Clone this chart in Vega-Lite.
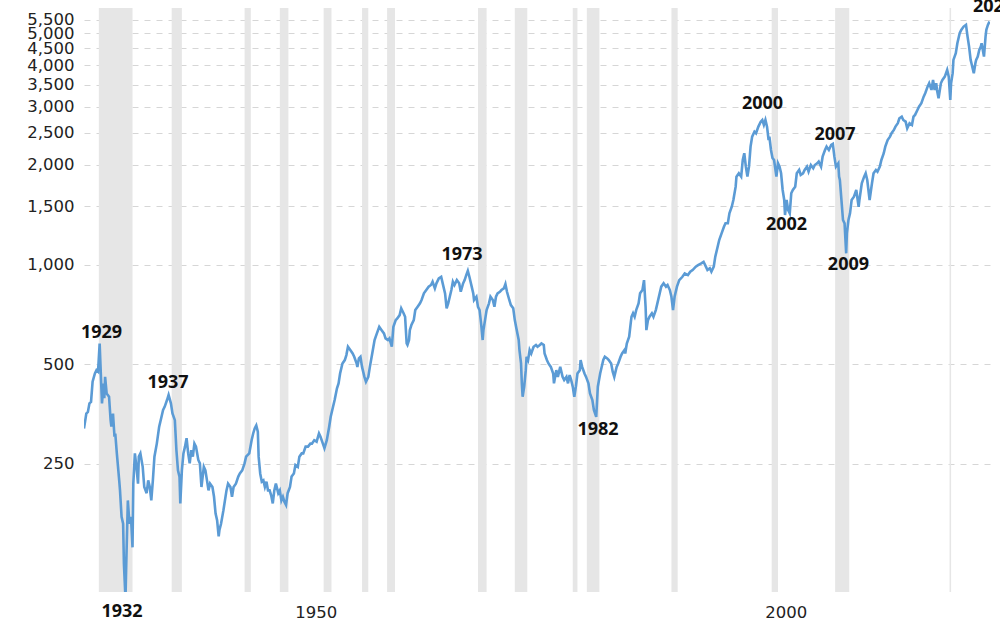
{
  "$schema": "https://vega.github.io/schema/vega-lite/v6.json",
  "autosize": {"type": "none"},
  "padding": {"left": 84, "top": 8, "right": 10, "bottom": 41},
  "width": 906,
  "height": 584,
  "background": "white",
  "config": {"view": {"stroke": null}},
  "datasets": {
    "recessions": [
      {"start": "1929-08-01", "end": "1933-03-01"},
      {"start": "1937-05-01", "end": "1938-06-01"},
      {"start": "1945-02-01", "end": "1945-10-01"},
      {"start": "1948-11-01", "end": "1949-10-01"},
      {"start": "1953-07-01", "end": "1954-05-01"},
      {"start": "1957-08-01", "end": "1958-04-01"},
      {"start": "1960-04-01", "end": "1961-02-01"},
      {"start": "1969-12-01", "end": "1970-11-01"},
      {"start": "1973-11-01", "end": "1975-03-01"},
      {"start": "1980-01-01", "end": "1980-07-01"},
      {"start": "1981-07-01", "end": "1982-11-01"},
      {"start": "1990-07-01", "end": "1991-03-01"},
      {"start": "2001-03-01", "end": "2001-11-01"},
      {"start": "2007-12-01", "end": "2009-06-01"},
      {"start": "2020-02-01", "end": "2020-04-01"}
    ],
    "labels": [
      {"date": "1929-11-13", "value": 620, "label": "1929"},
      {"date": "1932-01-18", "value": 89.2, "label": "1932"},
      {"date": "1936-12-10", "value": 439, "label": "1937"},
      {"date": "1968-03-20", "value": 1069, "label": "1973"},
      {"date": "1982-09-08", "value": 316, "label": "1982"},
      {"date": "2000-03-10", "value": 3058, "label": "2000"},
      {"date": "2002-09-26", "value": 1322, "label": "2002"},
      {"date": "2007-11-25", "value": 2465, "label": "2007"},
      {"date": "2009-04-30", "value": 997, "label": "2009"},
      {"date": "2024-10-08", "value": 5986, "label": "2024"}
    ],
    "sp500": [
      {"date": "1928-01-01", "value": 320}, {"date": "1928-04-01", "value": 355}, {"date": "1928-06-01", "value": 359}, {"date": "1928-08-01", "value": 381}, {"date": "1928-10-01", "value": 385}, {"date": "1928-12-01", "value": 443},
      {"date": "1929-03-01", "value": 469}, {"date": "1929-05-01", "value": 480}, {"date": "1929-07-01", "value": 475}, {"date": "1929-09-01", "value": 578}, {"date": "1929-10-01", "value": 503}, {"date": "1929-12-01", "value": 381},
      {"date": "1930-02-01", "value": 437}, {"date": "1930-03-01", "value": 395}, {"date": "1930-04-01", "value": 458}, {"date": "1930-06-01", "value": 408}, {"date": "1930-09-01", "value": 399}, {"date": "1930-11-01", "value": 339}, {"date": "1930-12-01", "value": 324},
      {"date": "1931-02-01", "value": 355}, {"date": "1931-04-01", "value": 302}, {"date": "1931-05-01", "value": 309}, {"date": "1931-07-01", "value": 269}, {"date": "1931-10-01", "value": 223}, {"date": "1931-11-01", "value": 208},
      {"date": "1932-01-01", "value": 173}, {"date": "1932-03-01", "value": 165}, {"date": "1932-04-01", "value": 125}, {"date": "1932-06-01", "value": 98}, {"date": "1932-07-01", "value": 125}, {"date": "1932-09-01", "value": 194}, {"date": "1932-11-01", "value": 165},
      {"date": "1933-01-01", "value": 173}, {"date": "1933-03-01", "value": 140}, {"date": "1933-04-01", "value": 218}, {"date": "1933-06-01", "value": 269}, {"date": "1933-08-01", "value": 245}, {"date": "1933-10-01", "value": 218}, {"date": "1933-11-01", "value": 263},
      {"date": "1934-01-01", "value": 269}, {"date": "1934-04-01", "value": 245}, {"date": "1934-06-01", "value": 213}, {"date": "1934-09-01", "value": 204}, {"date": "1934-11-01", "value": 223},
      {"date": "1935-01-01", "value": 213}, {"date": "1935-03-01", "value": 194}, {"date": "1935-05-01", "value": 223}, {"date": "1935-07-01", "value": 263}, {"date": "1935-10-01", "value": 288},
      {"date": "1936-01-01", "value": 324}, {"date": "1936-04-01", "value": 347}, {"date": "1936-06-01", "value": 364}, {"date": "1936-08-01", "value": 372}, {"date": "1936-11-01", "value": 390},
      {"date": "1937-01-01", "value": 404}, {"date": "1937-04-01", "value": 381}, {"date": "1937-06-01", "value": 355}, {"date": "1937-09-01", "value": 339}, {"date": "1937-11-01", "value": 275},
      {"date": "1938-01-01", "value": 239}, {"date": "1938-03-01", "value": 229}, {"date": "1938-04-01", "value": 190}, {"date": "1938-06-01", "value": 239}, {"date": "1938-08-01", "value": 269}, {"date": "1938-10-01", "value": 282}, {"date": "1938-12-01", "value": 299},
      {"date": "1939-02-01", "value": 269}, {"date": "1939-04-01", "value": 251}, {"date": "1939-06-01", "value": 275}, {"date": "1939-08-01", "value": 263}, {"date": "1939-10-01", "value": 288}, {"date": "1939-12-01", "value": 282},
      {"date": "1940-03-01", "value": 257}, {"date": "1940-05-01", "value": 251}, {"date": "1940-07-01", "value": 213}, {"date": "1940-10-01", "value": 245}, {"date": "1940-12-01", "value": 239},
      {"date": "1941-02-01", "value": 223}, {"date": "1941-04-01", "value": 208}, {"date": "1941-06-01", "value": 218}, {"date": "1941-09-01", "value": 213}, {"date": "1941-11-01", "value": 199},
      {"date": "1942-01-01", "value": 177}, {"date": "1942-03-01", "value": 169}, {"date": "1942-05-01", "value": 151}, {"date": "1942-06-01", "value": 158}, {"date": "1942-08-01", "value": 165}, {"date": "1942-11-01", "value": 181},
      {"date": "1943-03-01", "value": 208}, {"date": "1943-05-01", "value": 218}, {"date": "1943-08-01", "value": 213}, {"date": "1943-10-01", "value": 199}, {"date": "1943-12-01", "value": 213},
      {"date": "1944-03-01", "value": 218}, {"date": "1944-06-01", "value": 229}, {"date": "1944-08-01", "value": 234}, {"date": "1944-11-01", "value": 239},
      {"date": "1945-02-01", "value": 251}, {"date": "1945-04-01", "value": 263}, {"date": "1945-08-01", "value": 269}, {"date": "1945-11-01", "value": 295},
      {"date": "1946-01-01", "value": 309}, {"date": "1946-03-01", "value": 320}, {"date": "1946-05-01", "value": 327}, {"date": "1946-07-01", "value": 313}, {"date": "1946-08-01", "value": 263}, {"date": "1946-10-01", "value": 234}, {"date": "1946-12-01", "value": 221},
      {"date": "1947-02-01", "value": 223}, {"date": "1947-04-01", "value": 213}, {"date": "1947-06-01", "value": 221}, {"date": "1947-08-01", "value": 208}, {"date": "1947-10-01", "value": 208}, {"date": "1947-12-01", "value": 201},
      {"date": "1948-02-01", "value": 190}, {"date": "1948-04-01", "value": 208}, {"date": "1948-06-01", "value": 218}, {"date": "1948-09-01", "value": 204}, {"date": "1948-11-01", "value": 208},
      {"date": "1949-01-01", "value": 194}, {"date": "1949-03-01", "value": 199}, {"date": "1949-05-01", "value": 192}, {"date": "1949-07-01", "value": 188}, {"date": "1949-09-01", "value": 204}, {"date": "1949-12-01", "value": 213},
      {"date": "1950-02-01", "value": 229}, {"date": "1950-05-01", "value": 234}, {"date": "1950-07-01", "value": 248}, {"date": "1950-10-01", "value": 245}, {"date": "1950-12-01", "value": 263},
      {"date": "1951-03-01", "value": 269}, {"date": "1951-05-01", "value": 269}, {"date": "1951-08-01", "value": 282}, {"date": "1951-11-01", "value": 282},
      {"date": "1952-02-01", "value": 288}, {"date": "1952-04-01", "value": 288}, {"date": "1952-07-01", "value": 295}, {"date": "1952-10-01", "value": 292},
      {"date": "1953-01-01", "value": 309}, {"date": "1953-03-01", "value": 302}, {"date": "1953-06-01", "value": 288}, {"date": "1953-08-01", "value": 279}, {"date": "1953-11-01", "value": 295},
      {"date": "1954-02-01", "value": 324}, {"date": "1954-04-01", "value": 347}, {"date": "1954-07-01", "value": 372}, {"date": "1954-09-01", "value": 390}, {"date": "1954-12-01", "value": 423},
      {"date": "1955-02-01", "value": 438}, {"date": "1955-04-01", "value": 469}, {"date": "1955-07-01", "value": 503}, {"date": "1955-10-01", "value": 515}, {"date": "1955-12-01", "value": 533},
      {"date": "1956-02-01", "value": 565}, {"date": "1956-05-01", "value": 552}, {"date": "1956-08-01", "value": 539}, {"date": "1956-10-01", "value": 527},
      {"date": "1957-01-01", "value": 503}, {"date": "1957-02-01", "value": 491}, {"date": "1957-04-01", "value": 521}, {"date": "1957-06-01", "value": 527}, {"date": "1957-08-01", "value": 491}, {"date": "1957-11-01", "value": 458},
      {"date": "1958-01-01", "value": 443}, {"date": "1958-04-01", "value": 458}, {"date": "1958-06-01", "value": 491}, {"date": "1958-09-01", "value": 539}, {"date": "1958-12-01", "value": 592},
      {"date": "1959-03-01", "value": 620}, {"date": "1959-06-01", "value": 649}, {"date": "1959-09-01", "value": 634}, {"date": "1959-12-01", "value": 620},
      {"date": "1960-02-01", "value": 599}, {"date": "1960-05-01", "value": 592}, {"date": "1960-07-01", "value": 599}, {"date": "1960-10-01", "value": 565}, {"date": "1960-12-01", "value": 649},
      {"date": "1961-03-01", "value": 680}, {"date": "1961-05-01", "value": 688}, {"date": "1961-08-01", "value": 704}, {"date": "1961-10-01", "value": 738},
      {"date": "1962-01-01", "value": 713}, {"date": "1962-03-01", "value": 696}, {"date": "1962-05-01", "value": 578}, {"date": "1962-06-01", "value": 572}, {"date": "1962-08-01", "value": 592}, {"date": "1962-09-01", "value": 634}, {"date": "1962-11-01", "value": 657},
      {"date": "1963-02-01", "value": 680}, {"date": "1963-04-01", "value": 729}, {"date": "1963-07-01", "value": 746}, {"date": "1963-10-01", "value": 764}, {"date": "1963-12-01", "value": 782},
      {"date": "1964-03-01", "value": 819}, {"date": "1964-06-01", "value": 838}, {"date": "1964-09-01", "value": 858}, {"date": "1964-12-01", "value": 868},
      {"date": "1965-02-01", "value": 888}, {"date": "1965-05-01", "value": 848}, {"date": "1965-07-01", "value": 878}, {"date": "1965-10-01", "value": 909},
      {"date": "1966-01-01", "value": 919}, {"date": "1966-03-01", "value": 878}, {"date": "1966-06-01", "value": 819}, {"date": "1966-08-01", "value": 738}, {"date": "1966-10-01", "value": 764}, {"date": "1966-12-01", "value": 800},
      {"date": "1967-02-01", "value": 838}, {"date": "1967-04-01", "value": 888}, {"date": "1967-06-01", "value": 868}, {"date": "1967-09-01", "value": 898}, {"date": "1967-12-01", "value": 878},
      {"date": "1968-02-01", "value": 828}, {"date": "1968-05-01", "value": 878}, {"date": "1968-07-01", "value": 898}, {"date": "1968-09-01", "value": 930}, {"date": "1968-11-01", "value": 958},
      {"date": "1969-01-01", "value": 919}, {"date": "1969-04-01", "value": 858}, {"date": "1969-06-01", "value": 819}, {"date": "1969-07-01", "value": 782}, {"date": "1969-10-01", "value": 800}, {"date": "1969-12-01", "value": 746},
      {"date": "1970-02-01", "value": 729}, {"date": "1970-04-01", "value": 665}, {"date": "1970-06-01", "value": 592}, {"date": "1970-07-01", "value": 634}, {"date": "1970-09-01", "value": 680}, {"date": "1970-11-01", "value": 729},
      {"date": "1971-02-01", "value": 764}, {"date": "1971-04-01", "value": 800}, {"date": "1971-07-01", "value": 782}, {"date": "1971-09-01", "value": 746}, {"date": "1971-11-01", "value": 800},
      {"date": "1972-01-01", "value": 819}, {"date": "1972-04-01", "value": 828}, {"date": "1972-06-01", "value": 838}, {"date": "1972-09-01", "value": 848}, {"date": "1972-11-01", "value": 874},
      {"date": "1973-01-01", "value": 828}, {"date": "1973-04-01", "value": 782}, {"date": "1973-06-01", "value": 755}, {"date": "1973-09-01", "value": 738}, {"date": "1973-11-01", "value": 680},
      {"date": "1974-01-01", "value": 642}, {"date": "1974-04-01", "value": 592}, {"date": "1974-05-01", "value": 552}, {"date": "1974-07-01", "value": 503}, {"date": "1974-08-01", "value": 438}, {"date": "1974-09-01", "value": 399}, {"date": "1974-11-01", "value": 428},
      {"date": "1975-01-01", "value": 480}, {"date": "1975-02-01", "value": 527}, {"date": "1975-04-01", "value": 515}, {"date": "1975-06-01", "value": 552}, {"date": "1975-08-01", "value": 539}, {"date": "1975-11-01", "value": 565},
      {"date": "1976-02-01", "value": 572}, {"date": "1976-04-01", "value": 565}, {"date": "1976-07-01", "value": 572}, {"date": "1976-09-01", "value": 578}, {"date": "1976-12-01", "value": 572},
      {"date": "1977-01-01", "value": 539}, {"date": "1977-04-01", "value": 515}, {"date": "1977-06-01", "value": 503}, {"date": "1977-09-01", "value": 491}, {"date": "1977-12-01", "value": 469},
      {"date": "1978-01-01", "value": 438}, {"date": "1978-04-01", "value": 480}, {"date": "1978-06-01", "value": 458}, {"date": "1978-09-01", "value": 491}, {"date": "1978-12-01", "value": 458},
      {"date": "1979-02-01", "value": 448}, {"date": "1979-05-01", "value": 458}, {"date": "1979-07-01", "value": 438}, {"date": "1979-09-01", "value": 464}, {"date": "1979-11-01", "value": 448},
      {"date": "1980-01-01", "value": 428}, {"date": "1980-03-01", "value": 399}, {"date": "1980-05-01", "value": 428}, {"date": "1980-07-01", "value": 469}, {"date": "1980-10-01", "value": 480}, {"date": "1980-11-01", "value": 515},
      {"date": "1981-01-01", "value": 491}, {"date": "1981-04-01", "value": 469}, {"date": "1981-06-01", "value": 458}, {"date": "1981-09-01", "value": 438}, {"date": "1981-11-01", "value": 408},
      {"date": "1982-02-01", "value": 390}, {"date": "1982-04-01", "value": 364}, {"date": "1982-07-01", "value": 347}, {"date": "1982-09-01", "value": 428}, {"date": "1982-12-01", "value": 469},
      {"date": "1983-04-01", "value": 515}, {"date": "1983-06-01", "value": 527}, {"date": "1983-09-01", "value": 521}, {"date": "1983-11-01", "value": 515},
      {"date": "1984-02-01", "value": 503}, {"date": "1984-04-01", "value": 475}, {"date": "1984-06-01", "value": 458}, {"date": "1984-09-01", "value": 491}, {"date": "1984-11-01", "value": 503},
      {"date": "1985-02-01", "value": 527}, {"date": "1985-04-01", "value": 539}, {"date": "1985-07-01", "value": 552}, {"date": "1985-08-01", "value": 539}, {"date": "1985-10-01", "value": 578},
      {"date": "1986-01-01", "value": 606}, {"date": "1986-03-01", "value": 665}, {"date": "1986-04-01", "value": 696}, {"date": "1986-06-01", "value": 713}, {"date": "1986-08-01", "value": 696}, {"date": "1986-10-01", "value": 729},
      {"date": "1987-01-01", "value": 764}, {"date": "1987-03-01", "value": 819}, {"date": "1987-06-01", "value": 838}, {"date": "1987-08-01", "value": 898}, {"date": "1987-10-01", "value": 746}, {"date": "1987-11-01", "value": 634},
      {"date": "1988-01-01", "value": 680}, {"date": "1988-03-01", "value": 696}, {"date": "1988-06-01", "value": 713}, {"date": "1988-08-01", "value": 696}, {"date": "1988-11-01", "value": 729},
      {"date": "1989-01-01", "value": 764}, {"date": "1989-04-01", "value": 819}, {"date": "1989-06-01", "value": 858}, {"date": "1989-09-01", "value": 878}, {"date": "1989-12-01", "value": 858},
      {"date": "1990-02-01", "value": 868}, {"date": "1990-05-01", "value": 838}, {"date": "1990-07-01", "value": 800}, {"date": "1990-09-01", "value": 729}, {"date": "1990-11-01", "value": 800},
      {"date": "1991-02-01", "value": 858}, {"date": "1991-05-01", "value": 898}, {"date": "1991-09-01", "value": 919}, {"date": "1991-12-01", "value": 941},
      {"date": "1992-04-01", "value": 930}, {"date": "1992-07-01", "value": 952}, {"date": "1992-10-01", "value": 963},
      {"date": "1993-02-01", "value": 986}, {"date": "1993-05-01", "value": 997}, {"date": "1993-09-01", "value": 1009}, {"date": "1993-12-01", "value": 1020},
      {"date": "1994-03-01", "value": 986}, {"date": "1994-05-01", "value": 963}, {"date": "1994-08-01", "value": 975}, {"date": "1994-10-01", "value": 952},
      {"date": "1995-01-01", "value": 986}, {"date": "1995-03-01", "value": 1057}, {"date": "1995-06-01", "value": 1133}, {"date": "1995-08-01", "value": 1187}, {"date": "1995-11-01", "value": 1243},
      {"date": "1996-02-01", "value": 1302}, {"date": "1996-04-01", "value": 1333}, {"date": "1996-07-01", "value": 1333}, {"date": "1996-09-01", "value": 1429}, {"date": "1996-12-01", "value": 1496},
      {"date": "1997-02-01", "value": 1568}, {"date": "1997-05-01", "value": 1720}, {"date": "1997-06-01", "value": 1844}, {"date": "1997-09-01", "value": 1888}, {"date": "1997-12-01", "value": 1844},
      {"date": "1998-02-01", "value": 2071}, {"date": "1998-04-01", "value": 2170}, {"date": "1998-06-01", "value": 1977}, {"date": "1998-08-01", "value": 1844}, {"date": "1998-10-01", "value": 1977}, {"date": "1998-12-01", "value": 2272},
      {"date": "1999-02-01", "value": 2436}, {"date": "1999-05-01", "value": 2522}, {"date": "1999-07-01", "value": 2494}, {"date": "1999-10-01", "value": 2612},
      {"date": "2000-01-01", "value": 2704}, {"date": "2000-03-01", "value": 2736}, {"date": "2000-05-01", "value": 2642}, {"date": "2000-07-01", "value": 2736}, {"date": "2000-09-01", "value": 2612}, {"date": "2000-11-01", "value": 2380}, {"date": "2000-12-01", "value": 2436},
      {"date": "2001-02-01", "value": 2220}, {"date": "2001-04-01", "value": 2100}, {"date": "2001-06-01", "value": 2071}, {"date": "2001-09-01", "value": 1844}, {"date": "2001-11-01", "value": 2024},
      {"date": "2002-01-01", "value": 1977}, {"date": "2002-03-01", "value": 1888}, {"date": "2002-05-01", "value": 1681}, {"date": "2002-07-01", "value": 1568}, {"date": "2002-08-01", "value": 1412}, {"date": "2002-10-01", "value": 1568}, {"date": "2002-12-01", "value": 1462},
      {"date": "2003-02-01", "value": 1429}, {"date": "2003-04-01", "value": 1643}, {"date": "2003-06-01", "value": 1681}, {"date": "2003-09-01", "value": 1720}, {"date": "2003-11-01", "value": 1888},
      {"date": "2004-02-01", "value": 1932}, {"date": "2004-04-01", "value": 1866}, {"date": "2004-07-01", "value": 1888}, {"date": "2004-09-01", "value": 1932}, {"date": "2004-12-01", "value": 1977},
      {"date": "2005-02-01", "value": 1909}, {"date": "2005-05-01", "value": 2000}, {"date": "2005-08-01", "value": 1955}, {"date": "2005-10-01", "value": 2000},
      {"date": "2006-01-01", "value": 2024}, {"date": "2006-03-01", "value": 2047}, {"date": "2006-06-01", "value": 1977}, {"date": "2006-08-01", "value": 2119}, {"date": "2006-11-01", "value": 2220},
      {"date": "2007-01-01", "value": 2272}, {"date": "2007-04-01", "value": 2220}, {"date": "2007-07-01", "value": 2299}, {"date": "2007-09-01", "value": 2315}, {"date": "2007-11-01", "value": 2119},
      {"date": "2008-01-01", "value": 1977}, {"date": "2008-04-01", "value": 2024}, {"date": "2008-05-01", "value": 1844}, {"date": "2008-06-01", "value": 1802}, {"date": "2008-08-01", "value": 1568}, {"date": "2008-10-01", "value": 1364}, {"date": "2008-12-01", "value": 1333},
      {"date": "2009-02-01", "value": 1082}, {"date": "2009-03-01", "value": 1243}, {"date": "2009-05-01", "value": 1364}, {"date": "2009-07-01", "value": 1429}, {"date": "2009-09-01", "value": 1568}, {"date": "2009-12-01", "value": 1604},
      {"date": "2010-03-01", "value": 1681}, {"date": "2010-06-01", "value": 1496}, {"date": "2010-07-01", "value": 1568}, {"date": "2010-10-01", "value": 1761},
      {"date": "2011-01-01", "value": 1844}, {"date": "2011-03-01", "value": 1888}, {"date": "2011-05-01", "value": 1802}, {"date": "2011-08-01", "value": 1568}, {"date": "2011-11-01", "value": 1761},
      {"date": "2012-01-01", "value": 1888}, {"date": "2012-04-01", "value": 1932}, {"date": "2012-06-01", "value": 1909}, {"date": "2012-09-01", "value": 1977}, {"date": "2012-11-01", "value": 2071},
      {"date": "2013-02-01", "value": 2170}, {"date": "2013-04-01", "value": 2272}, {"date": "2013-07-01", "value": 2380}, {"date": "2013-10-01", "value": 2436}, {"date": "2013-12-01", "value": 2494},
      {"date": "2014-03-01", "value": 2552}, {"date": "2014-05-01", "value": 2612}, {"date": "2014-08-01", "value": 2674}, {"date": "2014-10-01", "value": 2768},
      {"date": "2015-01-01", "value": 2799}, {"date": "2015-03-01", "value": 2736}, {"date": "2015-06-01", "value": 2704}, {"date": "2015-08-01", "value": 2582}, {"date": "2015-11-01", "value": 2674},
      {"date": "2016-02-01", "value": 2642}, {"date": "2016-04-01", "value": 2799}, {"date": "2016-06-01", "value": 2833}, {"date": "2016-09-01", "value": 2933}, {"date": "2016-11-01", "value": 3001},
      {"date": "2017-02-01", "value": 3073}, {"date": "2017-05-01", "value": 3217}, {"date": "2017-07-01", "value": 3294}, {"date": "2017-10-01", "value": 3449}, {"date": "2017-12-01", "value": 3531},
      {"date": "2018-03-01", "value": 3371}, {"date": "2018-05-01", "value": 3614}, {"date": "2018-07-01", "value": 3371}, {"date": "2018-09-01", "value": 3531}, {"date": "2018-10-01", "value": 3371}, {"date": "2018-12-01", "value": 3182},
      {"date": "2019-03-01", "value": 3531}, {"date": "2019-05-01", "value": 3614}, {"date": "2019-08-01", "value": 3698}, {"date": "2019-11-01", "value": 3875},
      {"date": "2020-01-01", "value": 3698}, {"date": "2020-03-01", "value": 3144}, {"date": "2020-04-01", "value": 3531}, {"date": "2020-06-01", "value": 3787}, {"date": "2020-07-01", "value": 4154}, {"date": "2020-10-01", "value": 4352}, {"date": "2020-12-01", "value": 4665},
      {"date": "2021-03-01", "value": 5002}, {"date": "2021-05-01", "value": 5119}, {"date": "2021-08-01", "value": 5238}, {"date": "2021-11-01", "value": 5300},
      {"date": "2022-01-01", "value": 4885}, {"date": "2022-03-01", "value": 4557}, {"date": "2022-05-01", "value": 4154}, {"date": "2022-06-01", "value": 4060}, {"date": "2022-09-01", "value": 3787}, {"date": "2022-11-01", "value": 4060}, {"date": "2022-12-01", "value": 4154},
      {"date": "2023-02-01", "value": 4250}, {"date": "2023-04-01", "value": 4453}, {"date": "2023-06-01", "value": 4557}, {"date": "2023-07-01", "value": 4665}, {"date": "2023-10-01", "value": 4250}, {"date": "2023-12-01", "value": 4885},
      {"date": "2024-01-01", "value": 5119}, {"date": "2024-03-01", "value": 5300}, {"date": "2024-05-01", "value": 5423}
    ]
  },
  "layer": [
    {
      "data": {"name": "recessions"},
      "mark": {"type": "rect", "color": "#e6e6e6"},
      "encoding": {
        "x": {
          "field": "start", "type": "temporal", "title": null,
          "scale": {"domain": ["1928-01-02", "2024-05-22"], "nice": false},
          "axis": {
            "values": [{"year": 1950}, {"year": 2000}],
            "format": "%Y",
            "labelOffset": 25,
            "labelFont": "DejaVu Sans",
            "labelFontSize": 16.5,
            "labelColor": "#222222",
            "labelPadding": 12,
            "labelOverlap": false,
            "ticks": false,
            "domain": false,
            "grid": false
          }
        },
        "x2": {"field": "end"}
      }
    },
    {
      "data": {"name": "sp500"},
      "mark": {"type": "line", "color": "#5b9bd5", "strokeWidth": 2.6, "clip": true},
      "encoding": {
        "x": {"field": "date", "type": "temporal", "title": null},
        "y": {
          "field": "value", "type": "quantitative", "title": null,
          "scale": {"type": "log", "domain": [102.6, 5960], "nice": false},
          "axis": {
            "values": [250, 500, 1000, 1500, 2000, 2500, 3000, 3500, 4000, 4500, 5000, 5500],
            "format": ",",
            "labelFont": "DejaVu Sans",
            "labelFontSize": 16.5,
            "labelColor": "#222222",
            "labelPadding": 10,
            "labelOverlap": false,
            "labelBound": false,
            "ticks": false,
            "domain": false,
            "grid": true,
            "gridColor": "#d6d6d6",
            "gridDash": [6, 6],
            "gridWidth": 1
          }
        }
      }
    },
    {
      "data": {"name": "labels"},
      "mark": {"type": "text", "font": "Open Sans", "fontWeight": "bold", "fontSize": 18, "align": "center", "baseline": "middle", "color": "#111111"},
      "encoding": {
        "x": {"field": "date", "type": "temporal", "title": null},
        "y": {"field": "value", "type": "quantitative", "title": null},
        "text": {"field": "label"}
      }
    }
  ]
}
